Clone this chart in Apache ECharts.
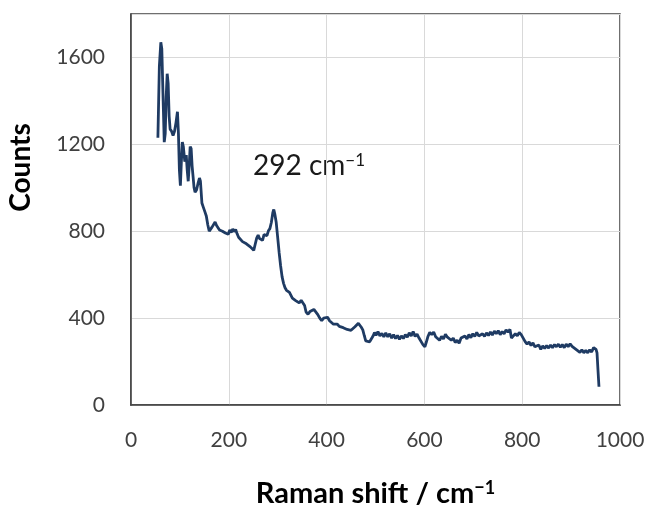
<!DOCTYPE html>
<html>
<head>
<meta charset="utf-8">
<script src="https://cdn.jsdelivr.net/npm/echarts@6/dist/echarts.min.js"></script>
<style>html,body{margin:0;padding:0;background:#fff}#c{width:648px;height:509px}</style>
</head>
<body>
<div id="c"></div>
<script>
var ramanShift = [
  55,58,61,63,66,68,70,72,74,76,78,80,83,86,89,92,95,97,99,101,103,105,107,110,113,115,117,119,121,123,125,127,129,131,134,137,140,142,145,148,151,154,157,160,
  163,166,169,172,175,178,181,184,187,190,193,196,199,202,205,208,211,214,217,220,
  224,228,232,236,240,244,248,251,254,257,260,263,266,269,272,275,278,281,284,287,290,
  292,294,297,300,303,306,309,312,315,318,321,324,327,330,333,336,340,344,348,352,355,358,362,366,370,374,378,382,386,390,394,398,402,406,410,414,418,422,426,430,434,438,442,446,450,454,458,462,465,468,471,474,477,480,
  484,488,492,495,498,501,505,509,513,517,521,525,529,533,537,541,545,549,553,557,561,565,569,573,577,581,585,589,593,597,601,604,607,611,615,619,623,627,631,635,639,643,647,651,655,659,663,667,671,675,679,683,687,691,695,699,703,707,711,715,719,723,727,731,735,739,743,747,751,755,759,763,767,771,775,778,782,786,790,794,798,802,806,810,814,818,822,826,830,834,838,842,846,850,854,858,862,866,870,874,878,882,886,890,894,898,902,906,910,914,918,922,926,930,934,938,942,946,949,951,953,955,957
];
var counts = [
  1230,1560,1670,1640,1380,1210,1250,1420,1525,1480,1330,1270,1260,1240,1260,1300,1350,1250,1080,1010,1120,1210,1190,1120,1150,1080,1030,1100,1190,1180,1100,1050,1000,980,990,1020,1045,1030,930,910,890,870,830,800,
  795,820,812,842,826,818,806,814,800,808,792,800,786,806,794,810,798,808,788,772,
  764,752,760,742,736,728,720,712,740,768,782,766,772,758,784,792,780,802,812,840,885,
  900,880,840,770,700,640,590,560,540,528,536,518,510,492,500,482,488,470,482,476,458,428,418,430,424,440,432,416,400,388,400,392,404,388,396,372,364,372,362,370,356,364,348,356,344,352,360,368,376,370,358,346,320,295,
  291,291,292,318,334,320,338,318,330,314,332,314,328,308,324,306,320,302,318,306,324,312,332,318,338,316,326,308,302,278,268,290,314,334,324,336,314,322,298,316,304,326,312,320,298,308,288,298,284,308,300,318,304,324,310,328,316,334,318,314,328,316,332,320,336,322,340,328,342,324,338,328,346,336,348,308,318,328,318,334,324,316,292,280,290,274,286,268,266,276,256,272,260,274,262,276,264,278,268,280,266,278,264,280,268,282,270,268,256,252,242,254,240,252,240,254,244,264,272,256,240,160,84
];
var xTicks = [0,200,400,600,800,1000];
var yTicks = [0,400,800,1200,1600];
var peakLabel = '292';

var n = Math.min(ramanShift.length, counts.length);
var data = [];
for (var i = 0; i < n; i++) data.push([ramanShift[i], counts[i]]);
var chart = echarts.init(document.getElementById('c'), null, {renderer:'canvas'});
var font = 'Lato, "Open Sans", sans-serif';
chart.setOption({
  backgroundColor: '#ffffff',
  animation: false,
  grid: {left:131, top:14, right:28, bottom:104, containLabel:false, outerBoundsMode:'none',
    show:true, borderColor:'#404040', borderWidth:1.5, backgroundColor:'transparent'},
  xAxis: {
    type:'value', min:xTicks[0], max:xTicks[xTicks.length-1], interval:200,
    name:'Raman shift / cm{sup|\u22121}', nameLocation:'middle', nameGap:74,
    nameTextStyle:{fontFamily:font, fontWeight:'bold', fontSize:29, color:'#000',
      rich:{sup:{fontFamily:font, fontWeight:'bold', fontSize:18, verticalAlign:'top', color:'#000'}}},
    axisLine:{show:true, lineStyle:{color:'#404040', width:1.5}},
    axisTick:{show:false},
    axisLabel:{fontFamily:font, fontSize:21, color:'#404040', margin:25,
      formatter:function(v){return xTicks.indexOf(v)>=0 ? String(v) : '';}},
    splitLine:{show:true, lineStyle:{color:'#d9d9d9', width:1}}
  },
  yAxis: {
    type:'value', min:yTicks[0], max:1800, interval:400,
    name:'Counts', nameLocation:'middle', nameGap:96, nameRotate:90,
    nameTextStyle:{fontFamily:font, fontWeight:'bold', fontSize:28, color:'#000', padding:[0,0,0,84]},
    axisLine:{show:true, lineStyle:{color:'#404040', width:1.5}},
    axisTick:{show:false},
    axisLabel:{fontFamily:font, fontSize:21, color:'#404040', margin:26,
      formatter:function(v){return yTicks.indexOf(v)>=0 ? String(v) : '';}},
    splitLine:{show:true, lineStyle:{color:'#d9d9d9', width:1}}
  },
  graphic:[{
    type:'text', left:253, top:152,
    style:{text:peakLabel+' cm{sup|\u22121}', fontFamily:font, fontSize:28, fill:'#1a1a1a',
      rich:{sup:{fontFamily:font, fontSize:17, verticalAlign:'top', fill:'#1a1a1a'}}}
  }],
  series:[{
    type:'line', data:data, showSymbol:false, smooth:false,
    lineStyle:{color:'#1f3b63', width:2.8}, itemStyle:{color:'#1f3b63'}
  }]
});
</script>
</body>
</html>
